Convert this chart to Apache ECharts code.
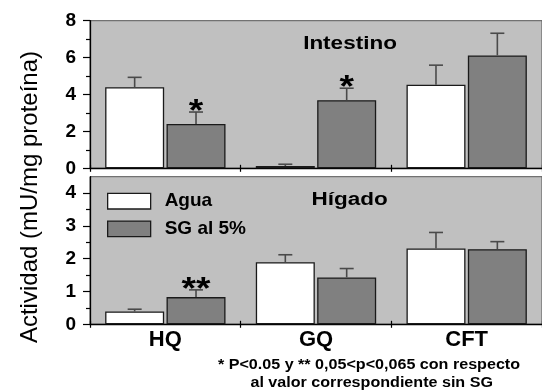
<!DOCTYPE html>
<html><head><meta charset="utf-8">
<script src="https://cdn.jsdelivr.net/npm/echarts@6/dist/echarts.min.js"></script>
<style>html,body{margin:0;padding:0;background:#fff}#c{width:542px;height:390px}</style>
</head><body><div id="c"></div>
<script>
const categories = ['HQ', 'GQ', 'CFT'];
const seriesNames = ['Agua', 'SG al 5%'];
// Intestino (top panel)
const intestinoAgua = [4.39, 0.12, 4.53];
const intestinoAguaErr = [0.54, 0.10, 1.06];
const intestinoSG = [2.40, 3.69, 6.12];
const intestinoSGErr = [0.65, 0.65, 1.20];
const intestinoSGSig = ['*', '*', ''];
const intestinoTicks = [0, 2, 4, 6, 8];
// Hígado (bottom panel)
const higadoAgua = [0.39, 1.89, 2.31];
const higadoAguaErr = [0.07, 0.23, 0.49];
const higadoSG = [0.83, 1.43, 2.29];
const higadoSGErr = [0.22, 0.27, 0.23];
const higadoSGSig = ['**', '', ''];
const higadoTicks = [0, 1, 2, 3, 4];
const higadoMinorTicks = [0.5, 1.5, 2.5, 3.5];

const FONT = '"Liberation Sans", Arial, Helvetica, sans-serif';
const BAR_W = 59, GAP_PCT = 4;
const BAR_OFFSET = (BAR_W + BAR_W * GAP_PCT / 100) / 2;
const CAP = 14;
const ERR_COLOR = '#4a4a4a';

function makeErr(name, xi, yi, vals, errs, sigs, side) {
  return {
    type: 'custom', name: name, xAxisIndex: xi, yAxisIndex: yi, z: 3, silent: true,
    data: vals.map((v, i) => [i, v, v + errs[i]]),
    renderItem: function (params, api) {
      const i = params.dataIndex;
      const p0 = api.coord([api.value(0), api.value(1)]);
      const p1 = api.coord([api.value(0), api.value(2)]);
      const x = p0[0] + side * BAR_OFFSET;
      const children = [
        { type: 'line', shape: { x1: x, y1: p0[1], x2: x, y2: p1[1] }, style: { stroke: ERR_COLOR, lineWidth: 1.6 } },
        { type: 'line', shape: { x1: x - CAP / 2, y1: p1[1], x2: x + CAP / 2, y2: p1[1] }, style: { stroke: ERR_COLOR, lineWidth: 1.6 } }
      ];
      if (sigs && sigs[i]) {
        children.push({
          type: 'text', x: x, y: p1[1] + 0.5, scaleX: 1.2,
          style: { text: sigs[i], font: 'bold 31px ' + FONT, fill: '#000', align: 'center', verticalAlign: 'middle', textAlign: 'center', textVerticalAlign: 'middle' }
        });
      }
      return { type: 'group', children: children };
    }
  };
}

const whiteStyle = { color: '#ffffff', borderColor: '#1a1a1a', borderWidth: 1.3 };
const grayStyle = { color: '#808080', borderColor: '#1a1a1a', borderWidth: 1.3 };

function catAxis(gi, showLabel, inside) {
  return {
    type: 'category', gridIndex: gi, data: categories, position: 'bottom',
    axisLine: { show: inside, lineStyle: { color: '#000', width: 1.3 } },
    axisTick: { show: true, inside: inside, length: 3.5, lineStyle: { color: '#000', width: 1.2 } },
    axisLabel: { show: showLabel && inside, color: '#000', fontWeight: 'bold', fontSize: 22, fontFamily: FONT, margin: 5 },
    splitLine: { show: false }
  };
}

const ylabel = { color: '#000', fontWeight: 'bold', fontSize: 19, fontFamily: FONT, margin: 14 };

const option = {
  animation: false,
  backgroundColor: '#ffffff',
  grid: [
    { left: 90, top: 20.7, width: 461, height: 147.6, show: true, backgroundColor: '#c0c0c0', borderColor: '#555', borderWidth: 1 },
    { left: 90, top: 176.7, width: 461, height: 147.6, show: true, backgroundColor: '#c0c0c0', borderColor: '#555', borderWidth: 1 }
  ],
  xAxis: [catAxis(0, false, true), catAxis(0, false, false), catAxis(1, true, true), catAxis(1, false, false)],
  yAxis: [
    {
      type: 'value', gridIndex: 0, min: 0, max: 8, interval: 2, position: 'left',
      axisLine: { show: true, lineStyle: { color: '#000', width: 1.3 } },
      axisTick: { show: true, length: 7, lineStyle: { color: '#000', width: 1.2 } },
      minorTick: { show: true, splitNumber: 2, length: 4, lineStyle: { color: '#000', width: 1.2 } },
      axisLabel: Object.assign({ customValues: intestinoTicks }, ylabel),
      splitLine: { show: false }
    },
    {
      type: 'value', gridIndex: 1, min: 0, max: 4.5, interval: 0.5, position: 'left',
      axisLine: { show: true, lineStyle: { color: '#000', width: 1.3 } },
      axisTick: { show: true, length: 7, customValues: higadoTicks, lineStyle: { color: '#000', width: 1.2 } },
      axisLabel: Object.assign({ customValues: higadoTicks }, ylabel),
      splitLine: { show: false }
    },
    {
      type: 'value', gridIndex: 1, min: 0, max: 4.5, interval: 0.5, position: 'left',
      axisLine: { show: false },
      axisTick: { show: true, length: 4, customValues: higadoMinorTicks, lineStyle: { color: '#000', width: 1.2 } },
      axisLabel: { show: false },
      splitLine: { show: false }
    }
  ],
  legend: {
    data: [
      { name: 'Agua', icon: 'rect', itemStyle: whiteStyle },
      { name: 'SG al 5%', icon: 'rect', itemStyle: grayStyle }
    ],
    orient: 'vertical', left: 107, top: 191.7, padding: 0,
    itemWidth: 43, itemHeight: 15.6, itemGap: 8.7,
    textStyle: { color: '#000', fontWeight: 'bold', fontSize: 19, fontFamily: FONT, padding: [0, 0, 0, 9] },
    selectedMode: false
  },
  graphic: [
    { type: 'text', x: 30, y: 197, rotation: Math.PI / 2,
      style: { text: 'Actividad (mU/mg proteína)', font: '24px ' + FONT, fill: '#000', align: 'center', verticalAlign: 'middle', textAlign: 'center', textVerticalAlign: 'middle' } },
    { type: 'text', x: 350, y: 44, scaleX: 1.25,
      style: { text: 'Intestino', font: 'bold 18px ' + FONT, fill: '#000', align: 'center', verticalAlign: 'middle', textAlign: 'center', textVerticalAlign: 'middle' } },
    { type: 'text', x: 349.7, y: 200.5, scaleX: 1.25,
      style: { text: 'Hígado', font: 'bold 18px ' + FONT, fill: '#000', align: 'center', verticalAlign: 'middle', textAlign: 'center', textVerticalAlign: 'middle' } },
    { type: 'text', x: 369, y: 365, scaleX: 1.15,
      style: { text: '* P<0.05 y ** 0,05<p<0,065 con respecto', font: 'bold 14px ' + FONT, fill: '#000', align: 'center', verticalAlign: 'middle', textAlign: 'center', textVerticalAlign: 'middle' } },
    { type: 'text', x: 371.7, y: 383, scaleX: 1.15,
      style: { text: 'al valor correspondiente sin SG', font: 'bold 14px ' + FONT, fill: '#000', align: 'center', verticalAlign: 'middle', textAlign: 'center', textVerticalAlign: 'middle' } }
  ],
  series: [
    { type: 'bar', name: seriesNames[0], xAxisIndex: 0, yAxisIndex: 0, data: intestinoAgua, barWidth: BAR_W, barGap: GAP_PCT + '%', itemStyle: whiteStyle, silent: true },
    { type: 'bar', name: seriesNames[1], xAxisIndex: 0, yAxisIndex: 0, data: intestinoSG, barWidth: BAR_W, barGap: GAP_PCT + '%', itemStyle: grayStyle, silent: true },
    { type: 'bar', name: seriesNames[0], xAxisIndex: 2, yAxisIndex: 1, data: higadoAgua, barWidth: BAR_W, barGap: GAP_PCT + '%', itemStyle: whiteStyle, silent: true },
    { type: 'bar', name: seriesNames[1], xAxisIndex: 2, yAxisIndex: 1, data: higadoSG, barWidth: BAR_W, barGap: GAP_PCT + '%', itemStyle: grayStyle, silent: true },
    makeErr('errIA', 0, 0, intestinoAgua, intestinoAguaErr, null, -1),
    makeErr('errIS', 0, 0, intestinoSG, intestinoSGErr, intestinoSGSig, 1),
    makeErr('errHA', 2, 1, higadoAgua, higadoAguaErr, null, -1),
    makeErr('errHS', 2, 1, higadoSG, higadoSGErr, higadoSGSig, 1)
  ]
};

const chart = echarts.init(document.getElementById('c'), null, { renderer: 'canvas' });
chart.setOption(option);
</script>
</body></html>
